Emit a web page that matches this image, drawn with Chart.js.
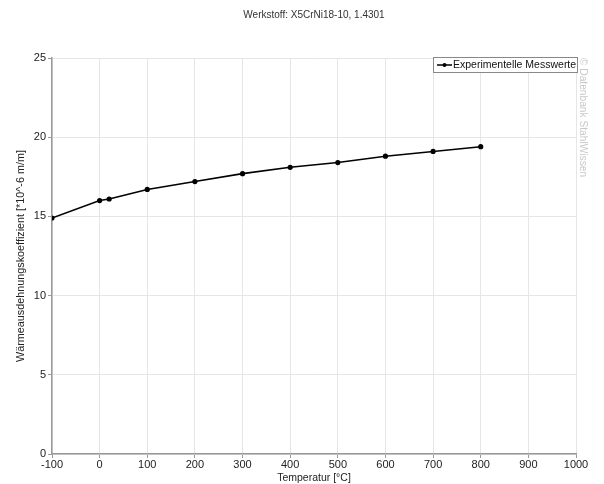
<!DOCTYPE html>
<html><head><meta charset="utf-8">
<script src="https://cdn.jsdelivr.net/npm/chart.js@4/dist/chart.umd.min.js"></script>
<style>html,body{margin:0;padding:0;background:#fff}#w{width:604px;height:484px}</style>
</head><body><div id="w"><canvas id="c"></canvas></div>
<script>
const temperatures = [-100, 0, 20, 100, 200, 300, 400, 500, 600, 700, 800];
const coefficients = [14.9, 16.0, 16.1, 16.7, 17.2, 17.7, 18.1, 18.4, 18.8, 19.1, 19.4];
const seriesName = 'Experimentelle Messwerte';
const titleText = 'Werkstoff: X5CrNi18-10, 1.4301';
const xTitle = 'Temperatur [°C]';
const yTitle = 'Wärmeausdehnungskoeffizient [*10^-6 m/m]';
const watermark = '© Datenbank StahlWissen';
const FONT = '"Liberation Sans", Arial, sans-serif';

const deco = {
  id: 'deco',
  afterDraw(chart) {
    const ctx = chart.ctx;
    ctx.save();
    ctx.fillStyle = '#333';
    ctx.font = '10px ' + FONT;
    ctx.textAlign = 'center'; ctx.textBaseline = 'middle';
    ctx.fillText(titleText, 314, 15);
    // legend
    const bx = 433, by = 57, bw = 144, bh = 15;
    ctx.fillStyle = '#fff'; ctx.fillRect(bx, by, bw, bh);
    ctx.strokeStyle = '#888'; ctx.lineWidth = 1;
    ctx.strokeRect(bx + 0.5, by + 0.5, bw, bh);
    ctx.strokeStyle = '#000'; ctx.lineWidth = 1.5;
    ctx.beginPath(); ctx.moveTo(437, by + 8); ctx.lineTo(452, by + 8); ctx.stroke();
    ctx.fillStyle = '#000';
    ctx.beginPath(); ctx.arc(444.5, by + 8, 2, 0, Math.PI * 2); ctx.fill();
    ctx.fillStyle = '#111'; ctx.textAlign = 'left';
    ctx.font = '10.5px ' + FONT;
    ctx.fillText(seriesName, 453, by + 8.5);
    // watermark
    ctx.translate(583, 58); ctx.rotate(Math.PI / 2);
    ctx.fillStyle = '#c8c8c8'; ctx.textAlign = 'left';
    ctx.font = '10.2px ' + FONT;
    ctx.fillText(watermark, 0, 0);
    ctx.restore();
  }
};

new Chart(document.getElementById('c'), {
  type: 'line',
  data: {
    datasets: [{
      label: seriesName,
      data: temperatures.map((t, i) => ({ x: t, y: coefficients[i] })),
      borderColor: '#000', backgroundColor: '#000',
      borderWidth: 1.6, pointRadius: 1.8, pointHoverRadius: 1.8,
      tension: 0
    }]
  },
  options: {
    responsive: true, maintainAspectRatio: false, animation: false,
    events: [],
    layout: { padding: { top: 58, right: 28, left: 15, bottom: 0 } },
    plugins: { legend: { display: false }, title: { display: false }, tooltip: { enabled: false } },
    scales: {
      x: {
        type: 'linear', min: -100, max: 1000,
        ticks: { stepSize: 100, color: '#222', font: { family: FONT, size: 11 }, padding: 0, maxRotation: 0,
                 callback: v => String(v) },
        grid: { color: '#e6e6e6', tickColor: '#999', tickLength: 4 },
        border: { color: '#999', width: 1.5 },
        title: { display: true, text: xTitle, color: '#222', font: { family: FONT, size: 10.5 }, padding: { top: 1, bottom: 0 } },
        afterFit(s) { s.height = 30; }
      },
      y: {
        min: 0, max: 25,
        ticks: { stepSize: 5, color: '#222', font: { family: FONT, size: 11 }, padding: 2 },
        grid: { color: '#e6e6e6', tickColor: '#999', tickLength: 4 },
        border: { color: '#999', width: 1.5 },
        title: { display: true, text: yTitle, color: '#222', font: { family: FONT, size: 10.8 }, padding: { top: 0, bottom: 4 } },
        afterFit(s) { s.width = 37; }
      }
    }
  },
  plugins: [deco]
});
</script>
</body></html>
